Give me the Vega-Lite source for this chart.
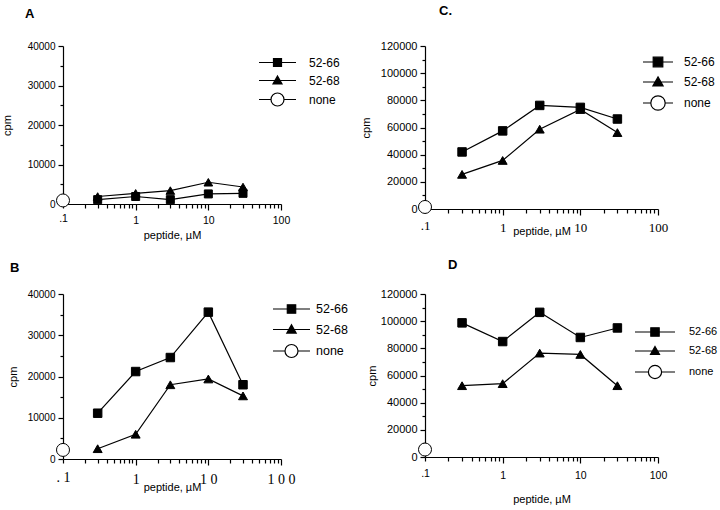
{
  "$schema": "https://vega.github.io/schema/vega-lite/v6.json",
  "background": "white",
  "padding": {"left": 1, "top": 5, "right": 5, "bottom": 5},
  "bounds": "flush",
  "columns": 2,
  "spacing": {"row": 85, "column": 144},
  "resolve": {"scale": {"fill": "independent"}, "legend": {"fill": "independent"}},
  "config": {
    "view": {"stroke": null},
    "axis": {"domainColor": "black", "tickColor": "black", "labelColor": "black", "titleColor": "black", "grid": false, "labelFont": "Liberation Sans", "titleFont": "Liberation Sans", "titleFontWeight": "normal", "domainWidth": 1.2, "tickWidth": 1.2},
    "legend": {"labelFont": "Liberation Sans", "labelColor": "black", "padding": 0, "symbolSize": 144, "symbolStrokeColor": "black", "symbolStrokeWidth": 1.2, "title": null, "orient": "none"},
    "title": {"font": "Liberation Sans", "fontWeight": "bold", "color": "black", "fontSize": 13}
  },
  "concat": [
    {
      "title": {"text": "A", "anchor": "start", "frame": "group", "dx": -38, "offset": 20},
      "width": 218, "height": 158,
      "data": {"values": [
        {"series": "52-66", "x": 0.3, "cpm": 1100},
        {"series": "52-66", "x": 1, "cpm": 1900},
        {"series": "52-66", "x": 3, "cpm": 1100},
        {"series": "52-66", "x": 10, "cpm": 2550},
        {"series": "52-66", "x": 30, "cpm": 2700},
        {"series": "52-68", "x": 0.3, "cpm": 1900},
        {"series": "52-68", "x": 1, "cpm": 2700},
        {"series": "52-68", "x": 3, "cpm": 3400},
        {"series": "52-68", "x": 10, "cpm": 5500},
        {"series": "52-68", "x": 30, "cpm": 4300},
        {"series": "none", "x": 0.1, "cpm": 900}
      ]},
      "encoding": {
        "x": {"field": "x", "type": "quantitative", "scale": {"type": "log", "domain": [0.1, 100], "nice": false},
          "axis": {"title": "peptide, µM", "values": [0.1,0.2,0.3,0.4,0.5,0.6,0.7,0.8,0.9,1,2,3,4,5,6,7,8,9,10,20,30,40,50,60,70,80,90,100],
            "labelExpr": "datum.value == 0.1 ? '.1' : datum.value == 1 ? '1' : datum.value == 10 ? '10' : datum.value == 100 ? '100' : ''",
            "tickSize": {"condition": {"test": "datum.value == 1 || datum.value == 10 || datum.value == 100", "value": 6}, "value": 4},
            "labelFontSize": 10.5, "labelPadding": 5, "titleFontSize": 11, "titlePadding": 4, "labelFlush": false, "labelOverlap": false}},
        "y": {"field": "cpm", "type": "quantitative", "scale": {"domain": [0, 40000], "nice": false},
          "axis": {"title": "cpm", "values": [0,5000,10000,15000,20000,25000,30000,35000,40000],
            "labelExpr": "datum.value % 10000 == 0 ? format(datum.value, 'd') : ''",
            "tickSize": {"condition": {"test": "datum.value % 10000 == 0", "value": 5}, "value": 3},
            "labelFontSize": 10, "labelPadding": 3, "titleFontSize": 11, "titlePadding": 15, "labelOverlap": false}},
        "fill": {"field": "series", "type": "nominal", "scale": {"domain": ["52-66", "52-68", "none"], "range": ["black", "black", "white"]},
          "legend": {"legendX": 207.5, "legendY": 9.5, "labelFontSize": 12, "labelOffset": 24.5, "rowPadding": 4,
            "encoding": {"symbols": {
              "shape": {"condition": [{"test": "datum.value === '52-66'", "value": "M-3.083,0H3.083M-0.667,-0.667H0.667V0.667H-0.667Z"}, {"test": "datum.value === '52-68'", "value": "M-3.083,0H3.083M0,-0.75L0.75,0.58H-0.75Z"}], "value": "M-3.083,0H-1.083M1.083,0H3.083M1.083,0A1.083,1.083,0,1,1,-1.083,0A1.083,1.083,0,1,1,1.083,0Z"},
              "stroke": {"value": "black"}, "strokeWidth": {"value": 1.2}}}}}
      },
      "layer": [
        {"transform": [{"filter": "datum.series !== 'none'"}], "mark": {"type": "line", "color": "black", "strokeWidth": 1.2}, "encoding": {"detail": {"field": "series"}, "fill": null}},
        {"transform": [{"filter": "datum.series === '52-66'"}], "mark": {"type": "point", "shape": "square", "filled": true, "stroke": "black", "strokeWidth": 1, "opacity": 1, "size": 64}, "encoding": {}},
        {"transform": [{"filter": "datum.series === '52-68'"}], "mark": {"type": "point", "shape": "triangle-up", "filled": true, "stroke": "black", "strokeWidth": 1, "opacity": 1, "size": 75}, "encoding": {}},
        {"transform": [{"filter": "datum.series === 'none'"}], "mark": {"type": "point", "shape": "circle", "filled": true, "stroke": "black", "strokeWidth": 1, "opacity": 1, "size": 169}, "encoding": {}}
      ]
    },
    {
      "title": {"text": "C.", "anchor": "start", "frame": "group", "dx": 14, "offset": 22},
      "width": 233, "height": 163,
      "data": {"values": [
        {"series": "52-66", "x": 0.3, "cpm": 42000},
        {"series": "52-66", "x": 1, "cpm": 57500},
        {"series": "52-66", "x": 3, "cpm": 76250},
        {"series": "52-66", "x": 10, "cpm": 74800},
        {"series": "52-66", "x": 30, "cpm": 66250},
        {"series": "52-68", "x": 0.3, "cpm": 25500},
        {"series": "52-68", "x": 1, "cpm": 35750},
        {"series": "52-68", "x": 3, "cpm": 58750},
        {"series": "52-68", "x": 10, "cpm": 73250},
        {"series": "52-68", "x": 30, "cpm": 56250},
        {"series": "none", "x": 0.1, "cpm": 1500}
      ]},
      "encoding": {
        "x": {"field": "x", "type": "quantitative", "scale": {"type": "log", "domain": [0.1, 100], "nice": false},
          "axis": {"title": "peptide, µM", "values": [0.1,0.2,0.3,0.4,0.5,0.6,0.7,0.8,0.9,1,2,3,4,5,6,7,8,9,10,20,30,40,50,60,70,80,90,100],
            "labelExpr": "datum.value == 0.1 ? '.1' : datum.value == 1 ? '1' : datum.value == 10 ? '10' : datum.value == 100 ? '100' : ''",
            "tickSize": {"condition": {"test": "datum.value == 1 || datum.value == 10 || datum.value == 100", "value": 6}, "value": 4},
            "labelFont": "Liberation Serif", "labelFontSize": 13, "labelPadding": 6, "titleFontSize": 11, "titlePadding": -9, "labelFlush": false, "labelOverlap": false}},
        "y": {"field": "cpm", "type": "quantitative", "scale": {"domain": [0, 120000], "nice": false},
          "axis": {"title": "cpm", "values": [0,10000,20000,30000,40000,50000,60000,70000,80000,90000,100000,110000,120000],
            "labelExpr": "datum.value % 20000 == 0 ? format(datum.value, 'd') : ''",
            "tickSize": {"condition": {"test": "datum.value % 20000 == 0", "value": 5}, "value": 3},
            "labelFontSize": 11, "labelPadding": 3, "titleFontSize": 11, "titlePadding": 9, "labelOverlap": false}},
        "fill": {"field": "series", "type": "nominal", "scale": {"domain": ["52-66", "52-68", "none"], "range": ["black", "black", "white"]},
          "legend": {"legendX": 226, "legendY": 9, "labelFontSize": 12, "labelOffset": 19, "rowPadding": 4,
            "encoding": {"symbols": {
              "shape": {"condition": [{"test": "datum.value === '52-66'", "value": "M-2.5,0H2.5M-0.8,-0.8H0.8V0.8H-0.8Z"}, {"test": "datum.value === '52-68'", "value": "M-2.5,0H2.5M0,-0.85L0.85,0.65H-0.85Z"}], "value": "M-2.5,0H-1.2M1.2,0H2.5M1.2,0A1.2,1.2,0,1,1,-1.2,0A1.2,1.2,0,1,1,1.2,0Z"},
              "stroke": {"value": "black"}, "strokeWidth": {"value": 1.2}}}}}
      },
      "layer": [
        {"transform": [{"filter": "datum.series !== 'none'"}], "mark": {"type": "line", "color": "black", "strokeWidth": 1.2}, "encoding": {"detail": {"field": "series"}, "fill": null}},
        {"transform": [{"filter": "datum.series === '52-66'"}], "mark": {"type": "point", "shape": "square", "filled": true, "stroke": "black", "strokeWidth": 1, "opacity": 1, "size": 72}, "encoding": {}},
        {"transform": [{"filter": "datum.series === '52-68'"}], "mark": {"type": "point", "shape": "triangle-up", "filled": true, "stroke": "black", "strokeWidth": 1, "opacity": 1, "size": 80}, "encoding": {}},
        {"transform": [{"filter": "datum.series === 'none'"}], "mark": {"type": "point", "shape": "circle", "filled": true, "stroke": "black", "strokeWidth": 1, "opacity": 1, "size": 169}, "encoding": {}}
      ]
    },
    {
      "title": {"text": "B", "anchor": "start", "frame": "group", "dx": -53, "offset": 14},
      "width": 218, "height": 165,
      "data": {"values": [
        {"series": "52-66", "x": 0.3, "cpm": 11100},
        {"series": "52-66", "x": 1, "cpm": 21200},
        {"series": "52-66", "x": 3, "cpm": 24600},
        {"series": "52-66", "x": 10, "cpm": 35600},
        {"series": "52-66", "x": 30, "cpm": 18000},
        {"series": "52-68", "x": 0.3, "cpm": 2500},
        {"series": "52-68", "x": 1, "cpm": 6000},
        {"series": "52-68", "x": 3, "cpm": 18000},
        {"series": "52-68", "x": 10, "cpm": 19400},
        {"series": "52-68", "x": 30, "cpm": 15300},
        {"series": "none", "x": 0.1, "cpm": 2200}
      ]},
      "encoding": {
        "x": {"field": "x", "type": "quantitative", "scale": {"type": "log", "domain": [0.1, 100], "nice": false},
          "axis": {"title": "peptide, µM", "values": [0.1,0.2,0.3,0.4,0.5,0.6,0.7,0.8,0.9,1,2,3,4,5,6,7,8,9,10,20,30,40,50,60,70,80,90,100],
            "labelExpr": "datum.value == 0.1 ? '. 1' : datum.value == 1 ? '1' : datum.value == 10 ? '1 0' : datum.value == 100 ? '1 0 0' : ''",
            "tickSize": {"condition": {"test": "datum.value == 1 || datum.value == 10 || datum.value == 100", "value": 6}, "value": 4},
            "labelFont": "Liberation Serif", "labelFontSize": 14, "labelPadding": 7, "titleFontSize": 11, "titlePadding": -5, "labelFlush": false, "labelOverlap": false}},
        "y": {"field": "cpm", "type": "quantitative", "scale": {"domain": [0, 40000], "nice": false},
          "axis": {"title": "cpm", "values": [0,5000,10000,15000,20000,25000,30000,35000,40000],
            "labelExpr": "datum.value % 10000 == 0 ? format(datum.value, 'd') : ''",
            "tickSize": {"condition": {"test": "datum.value % 10000 == 0", "value": 5}, "value": 3},
            "labelFontSize": 10, "labelPadding": 3, "titleFontSize": 11, "titlePadding": 9, "labelOverlap": false}},
        "fill": {"field": "series", "type": "nominal", "scale": {"domain": ["52-66", "52-68", "none"], "range": ["black", "black", "white"]},
          "legend": {"legendX": 221.5, "legendY": 8, "labelFontSize": 12.5, "labelOffset": 17.5, "rowPadding": 5.5,
            "encoding": {"symbols": {
              "shape": {"condition": [{"test": "datum.value === '52-66'", "value": "M-3.083,0H3.083M-0.7,-0.7H0.7V0.7H-0.7Z"}, {"test": "datum.value === '52-68'", "value": "M-3.083,0H3.083M0,-0.78L0.78,0.6H-0.78Z"}], "value": "M-3.083,0H-1.083M1.083,0H3.083M1.083,0A1.083,1.083,0,1,1,-1.083,0A1.083,1.083,0,1,1,1.083,0Z"},
              "stroke": {"value": "black"}, "strokeWidth": {"value": 1.2}}}}}
      },
      "layer": [
        {"transform": [{"filter": "datum.series !== 'none'"}], "mark": {"type": "line", "color": "black", "strokeWidth": 1.2}, "encoding": {"detail": {"field": "series"}, "fill": null}},
        {"transform": [{"filter": "datum.series === '52-66'"}], "mark": {"type": "point", "shape": "square", "filled": true, "stroke": "black", "strokeWidth": 1, "opacity": 1, "size": 72}, "encoding": {}},
        {"transform": [{"filter": "datum.series === '52-68'"}], "mark": {"type": "point", "shape": "triangle-up", "filled": true, "stroke": "black", "strokeWidth": 1, "opacity": 1, "size": 80}, "encoding": {}},
        {"transform": [{"filter": "datum.series === 'none'"}], "mark": {"type": "point", "shape": "circle", "filled": true, "stroke": "black", "strokeWidth": 1, "opacity": 1, "size": 169}, "encoding": {}}
      ]
    },
    {
      "title": {"text": "D", "anchor": "start", "frame": "group", "dx": 23, "offset": 16},
      "width": 233, "height": 163,
      "data": {"values": [
        {"series": "52-66", "x": 0.3, "cpm": 98750},
        {"series": "52-66", "x": 1, "cpm": 85000},
        {"series": "52-66", "x": 3, "cpm": 106500},
        {"series": "52-66", "x": 10, "cpm": 88000},
        {"series": "52-66", "x": 30, "cpm": 95000},
        {"series": "52-68", "x": 0.3, "cpm": 52500},
        {"series": "52-68", "x": 1, "cpm": 54000},
        {"series": "52-68", "x": 3, "cpm": 76500},
        {"series": "52-68", "x": 10, "cpm": 75500},
        {"series": "52-68", "x": 30, "cpm": 52500},
        {"series": "none", "x": 0.1, "cpm": 5500}
      ]},
      "encoding": {
        "x": {"field": "x", "type": "quantitative", "scale": {"type": "log", "domain": [0.1, 100], "nice": false},
          "axis": {"title": "peptide, µM", "values": [0.1,0.2,0.3,0.4,0.5,0.6,0.7,0.8,0.9,1,2,3,4,5,6,7,8,9,10,20,30,40,50,60,70,80,90,100],
            "labelExpr": "datum.value == 0.1 ? '.1' : datum.value == 1 ? '1' : datum.value == 10 ? '10' : datum.value == 100 ? '100' : ''",
            "tickSize": {"condition": {"test": "datum.value == 1 || datum.value == 10 || datum.value == 100", "value": 6}, "value": 4},
            "labelFontSize": 10.5, "labelPadding": 7, "titleFontSize": 11, "titlePadding": 13, "labelFlush": false, "labelOverlap": false}},
        "y": {"field": "cpm", "type": "quantitative", "scale": {"domain": [0, 120000], "nice": false},
          "axis": {"title": "cpm", "values": [0,10000,20000,30000,40000,50000,60000,70000,80000,90000,100000,110000,120000],
            "labelExpr": "datum.value % 20000 == 0 ? format(datum.value, 'd') : ''",
            "tickSize": {"condition": {"test": "datum.value % 20000 == 0", "value": 5}, "value": 3},
            "labelFontSize": 11, "labelPadding": 3, "titleFontSize": 11, "titlePadding": 3, "labelOverlap": false}},
        "fill": {"field": "series", "type": "nominal", "scale": {"domain": ["52-66", "52-68", "none"], "range": ["black", "black", "white"]},
          "legend": {"legendX": 223, "legendY": 31, "labelFontSize": 11, "labelOffset": 27, "rowPadding": 5,
            "encoding": {"symbols": {
              "shape": {"condition": [{"test": "datum.value === '52-66'", "value": "M-3.333,0H3.333M-0.7,-0.7H0.7V0.7H-0.7Z"}, {"test": "datum.value === '52-68'", "value": "M-3.333,0H3.333M0,-0.75L0.75,0.58H-0.75Z"}], "value": "M-3.333,0H-1.1M1.1,0H3.333M1.1,0A1.1,1.1,0,1,1,-1.1,0A1.1,1.1,0,1,1,1.1,0Z"},
              "stroke": {"value": "black"}, "strokeWidth": {"value": 1.2}}}}}
      },
      "layer": [
        {"transform": [{"filter": "datum.series !== 'none'"}], "mark": {"type": "line", "color": "black", "strokeWidth": 1.2}, "encoding": {"detail": {"field": "series"}, "fill": null}},
        {"transform": [{"filter": "datum.series === '52-66'"}], "mark": {"type": "point", "shape": "square", "filled": true, "stroke": "black", "strokeWidth": 1, "opacity": 1, "size": 72}, "encoding": {}},
        {"transform": [{"filter": "datum.series === '52-68'"}], "mark": {"type": "point", "shape": "triangle-up", "filled": true, "stroke": "black", "strokeWidth": 1, "opacity": 1, "size": 80}, "encoding": {}},
        {"transform": [{"filter": "datum.series === 'none'"}], "mark": {"type": "point", "shape": "circle", "filled": true, "stroke": "black", "strokeWidth": 1, "opacity": 1, "size": 169}, "encoding": {}}
      ]
    }
  ]
}
